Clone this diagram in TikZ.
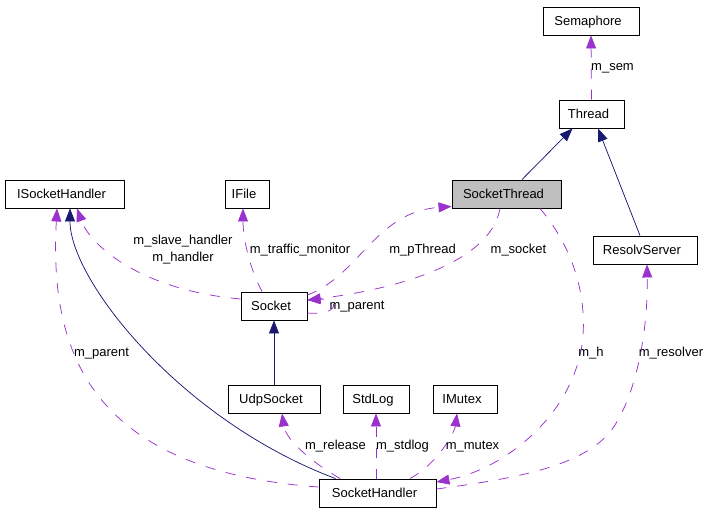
\documentclass[tikz,border=0pt]{standalone}
\usepackage{fontspec}
\setmainfont{Liberation Sans}
\usetikzlibrary{arrows.meta}
\definecolor{edgepurple}{HTML}{9A32CD}
\definecolor{edgenavy}{HTML}{191970}
\definecolor{boxgray}{HTML}{BFBFBF}
\newcommand{\bxt}[1]{\hspace*{-6pt}#1}
\begin{document}
\begin{tikzpicture}[x=1pt,y=-1pt,
  box/.style={draw=black, line width=0.9pt, minimum height=28pt, inner sep=0pt,
    text height=9pt, text depth=0pt, font=\fontsize{13}{15}\selectfont},
  lbl/.style={font=\fontsize{13}{15}\selectfont, inner sep=0pt, anchor=base},
  dep/.style={draw=edgepurple, line width=0.75pt, dash pattern=on 10pt off 11pt,
    -{Triangle[length=13pt,width=10pt]}},
  inh/.style={draw=edgenavy, line width=0.75pt,
    -{Triangle[length=13pt,width=10pt]}}
]
\useasboundingbox (0,0) rectangle (715,512);

% classes
\node[box, minimum width=96pt]  (semaphore)      at (591,21)    {\bxt{Semaphore}};
\node[box, minimum width=65pt]  (thread)         at (591.5,114) {\bxt{Thread}};
\node[box, minimum width=109pt, fill=boxgray] (socketthread) at (506.5,194) {\bxt{SocketThread}};
\node[box, minimum width=104pt] (resolvserver)   at (645,250)   {\bxt{ResolvServer}};
\node[box, minimum width=119pt] (isockethandler) at (64.5,194)  {\bxt{ISocketHandler}};
\node[box, minimum width=44pt]  (ifile)          at (247,194)   {\bxt{IFile}};
\node[box, minimum width=66pt]  (socket)         at (274,306)   {\bxt{Socket}};
\node[box, minimum width=92pt]  (udpsocket)      at (274,399)   {\bxt{UdpSocket}};
\node[box, minimum width=66pt]  (stdlog)         at (376,399)   {\bxt{StdLog}};
\node[box, minimum width=64pt]  (imutex)         at (465,399)   {\bxt{IMutex}};
\node[box, minimum width=117pt] (sockethandler)  at (377.5,493) {\bxt{SocketHandler}};

% inheritance
\draw[inh] ([xshift=15.5pt]socketthread.north) -- ([xshift=-19pt]thread.south);
\draw[inh] ([xshift=-5pt]resolvserver.north) -- ([xshift=6.5pt]thread.south);
\draw[inh] (udpsocket.north) -- (socket.south);
\draw[inh] ([xshift=-42pt]sockethandler.north) .. controls (180,420) and (70,280) .. ([xshift=5.5pt]isockethandler.south);

% usage
\draw[dep] (thread.north) -- (semaphore.south);
\draw[dep] ([yshift=7pt]socket.west) .. controls (140,290) and (90,245) .. ([xshift=12.5pt]isockethandler.south);
\draw[dep] ([xshift=-12pt]socket.north) .. controls (248,265) and (243,235) .. ([xshift=-4pt]ifile.south);
\draw[dep] ([yshift=11pt]socket.east) .. controls (360,275) and (375,212) .. ([yshift=2pt]socketthread.south west);
\draw[dep] ([xshift=-6.5pt]socketthread.south) .. controls (490,265) and (390,290) .. ([yshift=6pt]socket.east);
\draw[dep] ([yshift=-7pt]socket.east) .. controls (340,316) and (340,298) .. ([yshift=6pt]socket.east);
\draw[dep] ([yshift=6pt]sockethandler.west) .. controls (80,470) and (50,340) .. ([xshift=-7.5pt]isockethandler.south);
\draw[dep] ([xshift=-37.5pt]sockethandler.north) .. controls (300,455) and (285,435) .. ([xshift=8pt]udpsocket.south);
\draw[dep] (sockethandler.north -| stdlog.south) -- (stdlog.south);
\draw[dep] ([xshift=32.5pt]sockethandler.north) .. controls (440,462) and (455,430) .. ([xshift=-8pt]imutex.south);
\draw[dep] ([xshift=33.5pt]socketthread.south) .. controls (575,250) and (588,300) .. (582,345)
   .. controls (570,420) and (500,470) .. ([yshift=11pt]sockethandler.east);
\draw[dep] ([yshift=4pt]sockethandler.east) .. controls (520,478) and (590,465) .. (615,425)
   .. controls (640,385) and (648,320) .. ([xshift=2pt]resolvserver.south);

% labels
\node[lbl] (lsem)        at (612.5,70)  {m\_sem};
\node[lbl] (lslave)      at (183,244)   {m\_slave\_handler};
\node[lbl] (lhandler)    at (183,261)   {m\_handler};
\node[lbl] (ltraffic)    at (300,253)   {m\_traffic\_monitor};
\node[lbl] (lpthread)    at (422.5,253) {m\_pThread};
\node[lbl] (lsocket)     at (518.5,253) {m\_socket};
\node[lbl] (lparentself) at (357,309)   {m\_parent};
\node[lbl] (lparent)     at (101.5,356) {m\_parent};
\node[lbl] (lh)          at (591,356)   {m\_h};
\node[lbl] (lresolver)   at (671,356)   {m\_resolver};
\node[lbl] (lrelease)    at (335.5,449) {m\_release};
\node[lbl] (lstdlog)     at (402.5,449) {m\_stdlog};
\node[lbl] (lmutex)      at (472.5,449) {m\_mutex};
\end{tikzpicture}
\end{document}
